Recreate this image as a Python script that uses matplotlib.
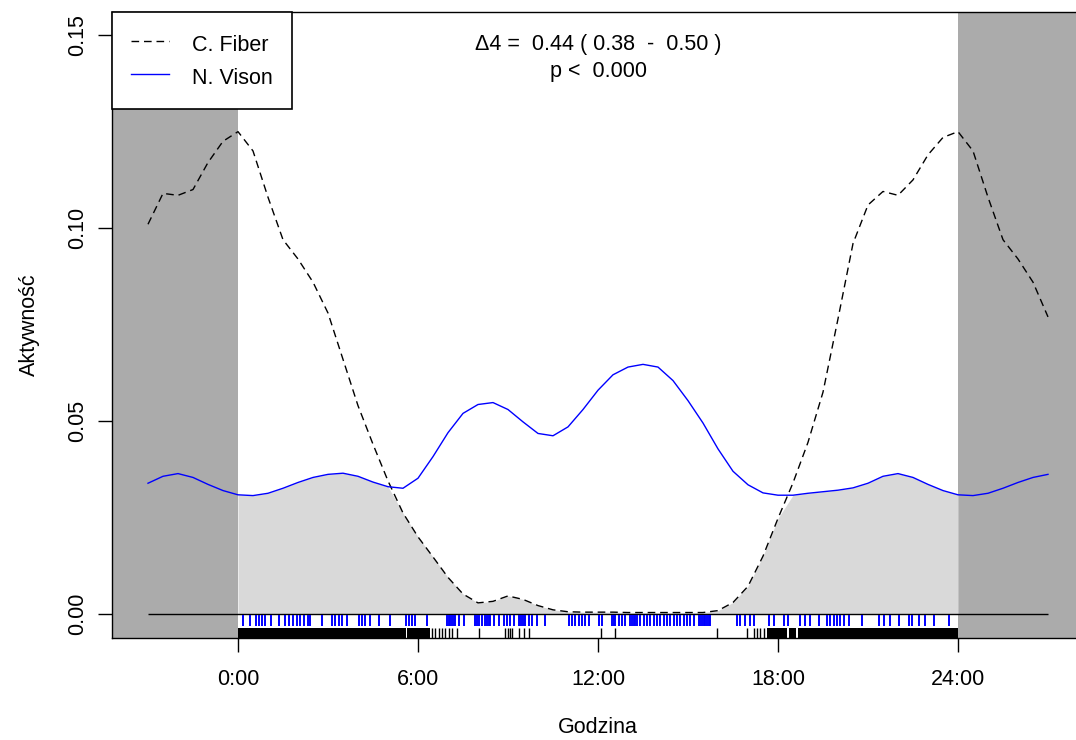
import numpy as np
import matplotlib
matplotlib.use("Agg")
import matplotlib.pyplot as plt

plt.rcParams['font.family'] = ['Liberation Sans', 'DejaVu Sans']

# ---- data ----
hours = np.arange(-3.0, 27.01, 0.5)

fiber = [0.101, 0.109, 0.1085, 0.110, 0.117, 0.1225,
         0.125, 0.120, 0.108, 0.097, 0.092, 0.086, 0.078, 0.066, 0.054, 0.044,
         0.0345, 0.0262, 0.0200, 0.0148, 0.0095, 0.0052, 0.0029, 0.0033, 0.0047,
         0.0038, 0.0022, 0.0011, 0.0006, 0.0005, 0.0005, 0.0005, 0.0004, 0.0004,
         0.0004, 0.0004, 0.0004, 0.0004, 0.0009, 0.0030, 0.0072, 0.0150, 0.0248,
         0.0340, 0.0445, 0.0575, 0.0765, 0.0960, 0.1060, 0.1095, 0.1085, 0.1125,
         0.119, 0.1235, 0.125, 0.120, 0.108, 0.097, 0.092, 0.086, 0.077]

vison = [0.0339, 0.0357, 0.0364, 0.0354, 0.0336, 0.0320,
         0.0309, 0.0307, 0.0313, 0.0326, 0.0341, 0.0354, 0.0362, 0.0365, 0.0357,
         0.0342, 0.0330, 0.0326, 0.0352, 0.0408, 0.0470, 0.0520, 0.0543, 0.0548,
         0.0530, 0.0498, 0.0468, 0.0462, 0.0485, 0.0530, 0.0580, 0.0620, 0.0640,
         0.0647, 0.0640, 0.0605, 0.0553, 0.0495, 0.0428, 0.0370, 0.0335, 0.0314,
         0.0308, 0.0308, 0.0313, 0.0317, 0.0321, 0.0327, 0.0339, 0.0357, 0.0364,
         0.0354, 0.0336, 0.0320, 0.0309, 0.0307, 0.0313, 0.0326, 0.0341, 0.0354,
         0.0362]

vison_rug = [0.17, 0.41, 0.6, 0.71, 0.8, 0.91, 1.11, 1.38, 1.58, 1.71, 1.82, 1.97,
             2.08, 2.19, 2.33, 2.39, 2.8, 3.13, 3.24, 3.36, 3.47, 3.63, 4.02, 4.13,
             4.24, 4.41, 4.69, 5.08, 5.6, 5.69, 5.8, 5.91, 6.3, 6.97, 7.02, 7.08,
             7.13, 7.19, 7.24, 7.36, 7.52, 7.91, 7.96, 8.02, 8.13, 8.24, 8.3, 8.35,
             8.41, 8.52, 8.69, 8.86, 8.97, 9.08, 9.19, 9.36, 9.41, 9.47, 9.52, 9.58,
             9.69, 9.8, 9.97, 10.24, 11.02, 11.13, 11.24, 11.36, 11.47, 11.58, 11.69,
             12.02, 12.13, 12.47, 12.52, 12.58, 12.69, 12.8, 12.91, 13.08, 13.13,
             13.19, 13.24, 13.3, 13.41, 13.52, 13.63, 13.74, 13.86, 13.97, 14.08,
             14.19, 14.3, 14.41, 14.52, 14.63, 14.74, 14.86, 14.97, 15.08, 15.19,
             15.36, 15.41, 15.47, 15.52, 15.58, 15.63, 15.69, 15.74, 16.63, 16.74,
             16.91, 17.08, 17.19, 17.69, 17.86, 18.19, 18.33, 18.74, 18.91, 19.08,
             19.36, 19.63, 19.74, 19.86, 19.97, 20.08, 20.19, 20.36, 20.8, 21.36,
             21.52, 21.74, 22.02, 22.36, 22.47, 22.69, 22.91, 23.19, 23.69]

fiber_rug_ticks = [6.47, 6.58, 6.69, 6.8, 6.91, 7.02, 7.13, 7.3, 8.02, 8.91, 8.99,
                   9.07, 9.13, 9.36, 9.52, 9.69, 12.09, 12.58, 15.97, 16.97, 17.19,
                   17.3, 17.41, 17.52]
fiber_rug_start = [0.0, 4.705, 5.625, 17.63, 18.35, 18.65]
fiber_rug_end = [4.685, 5.595, 6.4, 18.31, 18.61, 24.0]

xtick_pos = [0, 6, 12, 18, 24]
xtick_lab = ["0:00", "6:00", "12:00", "18:00", "24:00"]
ytick_pos = [0.00, 0.05, 0.10, 0.15]
ytick_lab = ["0.00", "0.05", "0.10", "0.15"]
series_names = ["C. Fiber", "N. Vison"]
stat_text = "\u03944 =  0.44 ( 0.38  -  0.50 )"
p_text = "p <  0.000"

# ---- figure ----
W, H = 1076, 740
fig = plt.figure(figsize=(W / 100, H / 100), dpi=100)
ax = fig.add_axes([112 / W, (H - 638) / H, 972 / W, 626 / H])
xlim = (-4.2, 28.2)
ylim = (-0.0062, 0.1560)
ax.set_xlim(*xlim)
ax.set_ylim(*ylim)

hours = np.asarray(hours)
fiber = np.asarray(fiber)
vison = np.asarray(vison)

# shaded extension regions
ax.axvspan(xlim[0], 0, color="#ABABAB", lw=0, zorder=0)
ax.axvspan(24, xlim[1], color="#ABABAB", lw=0, zorder=0)

# overlap area
m = (hours >= 0) & (hours <= 24)
ax.fill_between(hours[m], 0, np.minimum(fiber, vison)[m], color="#D9D9D9",
                lw=0, zorder=1)

ax.hlines(0, hours[0], hours[-1], color="black", lw=1.0, zorder=2)

ax.plot(hours, fiber, color="black", lw=1.0, linestyle=(0, (5.5, 3.5)), zorder=3,
        label=series_names[0])
ax.plot(hours, vison, color="#0000FF", lw=1.0, zorder=3, label=series_names[1])

# rugs
ax.vlines(vison_rug, -0.0030, -0.0002, color="#0000FF", lw=1.4, zorder=3)
ax.vlines(fiber_rug_ticks, ylim[0], -0.0036, color="black", lw=1.0, zorder=3)
ax.broken_barh([(s, e - s) for s, e in zip(fiber_rug_start, fiber_rug_end)],
               (ylim[0], -0.0036 - ylim[0]), facecolor="black", lw=0, zorder=3)

# stats text
ax.text(12, 0.1477, stat_text, ha="center", va="center", fontsize=15.5)
ax.text(12, 0.1407, p_text, ha="center", va="center", fontsize=15.5)

# axes
ax.set_xticks(xtick_pos)
ax.set_xticklabels(xtick_lab)
ax.set_yticks(ytick_pos)
ax.set_yticklabels(ytick_lab, rotation=90, va="center")
ax.tick_params(axis="both", direction="out", length=10, width=1.0,
               labelsize=15.5, colors="black")
ax.tick_params(axis="x", pad=12)
ax.tick_params(axis="y", pad=7)
for s in ax.spines.values():
    s.set_linewidth(1.0)
    s.set_zorder(6)

ax.set_xlabel("Godzina", fontsize=15.5, labelpad=20)
ax.set_ylabel("Aktywność", fontsize=15.5, labelpad=20)

leg = ax.legend(loc="upper left", bbox_to_anchor=(0, 1), borderaxespad=0,
                fontsize=15.5, frameon=True, fancybox=False, framealpha=1,
                edgecolor="black", handlelength=1.75, handletextpad=1.05,
                borderpad=0.9, labelspacing=0.32, handleheight=1.45)
leg.get_frame().set_linewidth(1.2)
leg.set_zorder(10)

fig.savefig("out.png", dpi=100)
